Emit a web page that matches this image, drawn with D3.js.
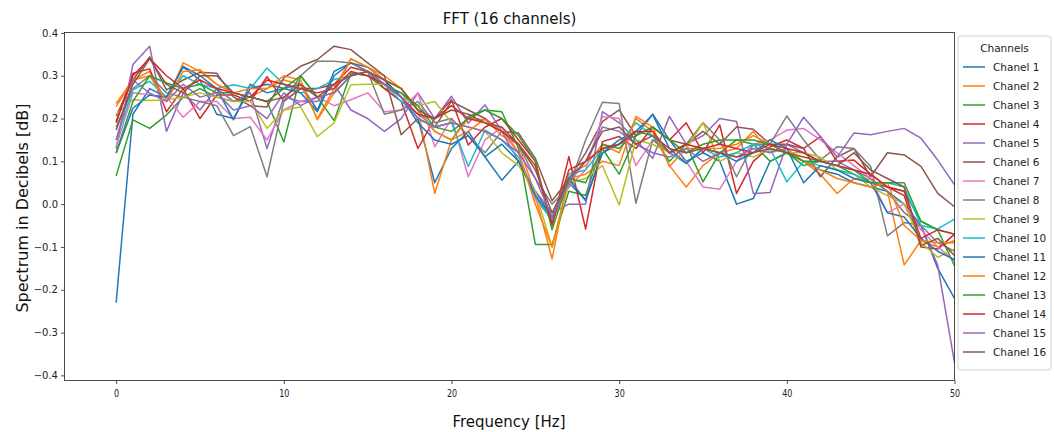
<!DOCTYPE html>
<html>
<head>
<meta charset="utf-8">
<script src="https://cdn.jsdelivr.net/npm/d3@7"></script>
<style>
  body { margin: 0; background: #fff; }
  svg { display: block; font-family: "DejaVu Sans", sans-serif; }
</style>
</head>
<body>
<div id="chart"></div>
<script>
// frequency bins 0..50 Hz
var freqs = d3.range(0, 51);
var channelNames = ["Chanel 1","Chanel 2","Chanel 3","Chanel 4","Chanel 5","Chanel 6","Chanel 7","Chanel 8",
  "Chanel 9","Chanel 10","Chanel 11","Chanel 12","Chanel 13","Chanel 14","Chanel 15","Chanel 16"];
var yTicks = [-0.4, -0.3, -0.2, -0.1, 0.0, 0.1, 0.2, 0.3, 0.4];
var xTicks = [0, 10, 20, 30, 40, 50];

var ch1 = [-0.23,0.21,0.27,0.25,0.32,0.29,0.21,0.2,0.27,0.28,0.27,0.28,0.22,0.31,0.33,0.31,0.29,0.25,0.2,0.05,0.13,0.17,0.11,0.056,0.1,0.03,-0.03,0.05,0.01,0.12,0.14,0.16,0.21,0.15,0.1,0.12,0.1,0.0,0.013,0.1,0.12,0.1,0.08,0.07,0.05,0.04,0.03,0.0,-0.05,-0.15,-0.22];
var ch2 = [0.235,0.29,0.31,0.24,0.33,0.31,0.28,0.26,0.25,0.27,0.29,0.28,0.2,0.27,0.34,0.32,0.3,0.27,0.22,0.025,0.15,0.17,0.2,0.16,0.14,0.02,-0.128,0.07,0.09,0.14,0.12,0.2,0.17,0.09,0.04,0.09,0.12,0.13,0.17,0.12,0.13,0.1,0.07,0.025,0.06,0.058,0.03,-0.142,-0.085,-0.1,-0.085];
var ch3 = [0.066,0.197,0.177,0.208,0.25,0.27,0.25,0.24,0.25,0.24,0.145,0.3,0.25,0.195,0.306,0.3,0.27,0.26,0.22,0.17,0.15,0.205,0.22,0.216,0.13,-0.094,-0.094,0.03,0.02,0.14,0.13,0.17,0.16,0.1,0.14,0.052,0.12,0.15,0.14,0.1,0.12,0.09,0.1,0.09,0.07,0.05,0.04,0.03,-0.04,-0.06,-0.144];
var ch4 = [0.193,0.306,0.316,0.216,0.27,0.2,0.255,0.255,0.24,0.298,0.24,0.27,0.27,0.28,0.32,0.31,0.27,0.24,0.13,0.2,0.244,0.138,0.18,0.2,0.15,0.1,-0.05,0.111,-0.058,0.146,0.158,0.13,0.18,0.15,0.19,0.12,0.185,0.025,0.1,0.134,0.15,0.13,0.158,0.1,0.103,0.07,0.04,0.02,-0.1,-0.105,-0.07];
var ch5 = [0.13,0.326,0.369,0.17,0.26,0.22,0.27,0.24,0.26,0.13,0.25,0.24,0.24,0.28,0.22,0.2,0.17,0.2,0.26,0.2,0.252,0.189,0.232,0.17,0.1,0.03,-0.02,0.0,0.0,0.216,0.19,0.15,0.107,0.205,0.14,0.16,0.2,0.193,0.025,0.027,0.14,0.12,0.1,0.1,0.08,0.06,0.03,-0.02,-0.05,-0.143,-0.37];
var ch6 = [0.206,0.29,0.344,0.267,0.29,0.308,0.306,0.25,0.23,0.227,0.295,0.322,0.338,0.369,0.361,0.33,0.3,0.162,0.2,0.18,0.24,0.22,0.2,0.17,0.166,0.107,0.008,0.058,0.12,0.193,0.22,0.16,0.18,0.15,0.14,0.17,0.14,0.18,0.175,0.14,0.14,0.13,0.064,0.11,0.13,0.064,0.12,0.115,0.088,0.025,-0.006];
var ch7 = [0.134,0.26,0.255,0.25,0.203,0.24,0.24,0.2,0.203,0.15,0.22,0.24,0.25,0.23,0.244,0.26,0.216,0.22,0.26,0.134,0.2,0.064,0.15,0.18,0.12,0.01,-0.035,0.04,0.08,0.205,0.2,0.09,0.15,0.12,0.1,0.04,0.035,0.1,0.14,0.15,0.173,0.177,0.15,0.12,0.09,0.06,-0.02,0.0,-0.06,-0.1,-0.132];
var ch8 = [0.18,0.27,0.3,0.26,0.25,0.24,0.23,0.16,0.181,0.064,0.24,0.3,0.334,0.334,0.33,0.31,0.21,0.22,0.24,0.19,0.2,0.16,0.12,0.17,0.14,0.06,0.0,0.04,0.15,0.238,0.235,0.002,0.15,0.12,0.14,0.19,0.15,0.064,0.14,0.14,0.206,0.15,0.103,0.134,0.13,0.088,-0.074,-0.043,-0.05,-0.09,-0.11];
var ch9 = [0.21,0.244,0.242,0.244,0.25,0.26,0.25,0.24,0.24,0.177,0.22,0.227,0.158,0.19,0.279,0.28,0.28,0.25,0.23,0.24,0.19,0.18,0.17,0.12,0.09,0.03,-0.1,0.05,0.06,0.09,-0.002,0.15,0.14,0.12,0.13,0.19,0.1,0.12,0.11,0.13,0.12,0.12,0.11,0.08,0.07,0.04,0.02,0.0,-0.09,-0.124,-0.105];
var ch10 = [0.15,0.267,0.287,0.25,0.3,0.28,0.27,0.279,0.27,0.318,0.28,0.26,0.27,0.291,0.3,0.31,0.28,0.24,0.21,0.18,0.19,0.088,0.173,0.15,0.11,0.02,-0.04,0.07,0.08,0.13,0.14,0.19,0.16,0.12,0.095,0.13,0.11,0.12,0.14,0.13,0.052,0.1,0.09,0.08,0.07,0.05,0.05,0.04,-0.05,-0.058,-0.035];
var ch11 = [0.119,0.224,0.255,0.25,0.322,0.3,0.27,0.197,0.28,0.26,0.27,0.26,0.216,0.3,0.33,0.32,0.29,0.25,0.19,0.15,0.14,0.16,0.111,0.14,0.1,0.02,-0.031,0.06,0.008,0.12,0.15,0.17,0.209,0.13,0.095,0.13,0.12,0.1,0.12,0.15,0.13,0.05,0.09,0.08,0.06,0.05,-0.02,-0.03,-0.08,-0.11,-0.13];
var ch12 = [0.228,0.29,0.3,0.24,0.31,0.314,0.28,0.26,0.27,0.27,0.3,0.29,0.197,0.26,0.339,0.32,0.29,0.271,0.22,0.17,0.15,0.2,0.197,0.17,0.12,0.0,-0.1,0.06,0.07,0.1,0.09,0.205,0.18,0.088,0.13,0.13,0.13,0.14,0.16,0.14,0.12,0.1,0.08,0.06,0.05,0.04,0.05,-0.05,-0.085,-0.09,-0.09];
var ch13 = [0.12,0.24,0.3,0.283,0.27,0.28,0.26,0.26,0.25,0.24,0.27,0.3,0.25,0.26,0.3,0.31,0.28,0.26,0.23,0.18,0.17,0.2,0.22,0.2,0.16,0.1,-0.06,0.06,0.05,0.13,0.07,0.16,0.18,0.15,0.12,0.14,0.15,0.15,0.15,0.14,0.12,0.1,0.1,0.09,0.08,0.05,0.05,0.05,-0.04,-0.06,-0.07];
var ch14 = [0.19,0.3,0.34,0.3,0.27,0.29,0.27,0.26,0.25,0.29,0.28,0.27,0.26,0.27,0.31,0.3,0.28,0.25,0.21,0.2,0.23,0.2,0.19,0.17,0.14,0.09,-0.047,0.08,0.1,0.13,0.14,0.17,0.17,0.12,0.14,0.13,0.14,0.13,0.12,0.14,0.13,0.12,0.1,0.09,0.08,0.07,0.04,0.03,-0.08,-0.06,-0.07];
var ch15 = [0.15,0.29,0.259,0.24,0.28,0.25,0.26,0.22,0.23,0.2,0.26,0.23,0.25,0.26,0.3,0.31,0.28,0.25,0.2,0.18,0.19,0.18,0.17,0.15,0.12,0.06,-0.03,0.05,0.1,0.18,0.17,0.14,0.12,0.11,0.13,0.1,0.12,0.11,0.13,0.12,0.14,0.203,0.158,0.11,0.166,0.162,0.17,0.177,0.154,0.103,0.045];
var ch16 = [0.173,0.28,0.34,0.28,0.26,0.3,0.3,0.26,0.25,0.24,0.25,0.28,0.25,0.28,0.3,0.31,0.29,0.27,0.22,0.2,0.22,0.21,0.19,0.18,0.14,0.08,-0.02,0.06,0.1,0.17,0.18,0.14,0.16,0.13,0.12,0.13,0.12,0.11,0.12,0.13,0.12,0.11,0.1,0.09,0.12,0.08,0.06,0.04,-0.097,-0.08,-0.12];

var series = [ch1,ch2,ch3,ch4,ch5,ch6,ch7,ch8,ch9,ch10,ch11,ch12,ch13,ch14,ch15,ch16];
var colors = d3.schemeCategory10; // matplotlib tab10 cycle

var W = 1054, H = 432;
var plot = { left: 64.5, right: 954.5, top: 32.5, bottom: 380.5 };

var svg = d3.select("#chart").append("svg").attr("width", W).attr("height", H);

var x = d3.scaleLinear().domain([-3.08, 50]).range([plot.left, plot.right]);
var y = d3.scaleLinear().domain([-0.412, 0.401]).range([plot.bottom, plot.top]);

var line = d3.line()
  .x(function (d, i) { return x(freqs[i]); })
  .y(function (d) { return y(d); });

// clip the lines to the axes box
svg.append("clipPath").attr("id", "clip")
  .append("rect")
  .attr("x", plot.left).attr("y", plot.top)
  .attr("width", plot.right - plot.left).attr("height", plot.bottom - plot.top);

svg.append("g").attr("clip-path", "url(#clip)")
  .selectAll("path")
  .data(series)
  .enter()
  .append("path")
  .attr("d", line)
  .attr("fill", "none")
  .attr("stroke", function (d, i) { return colors[i % 10]; })
  .attr("stroke-width", 1.5)
  .attr("stroke-linejoin", "round");

// axes
var fmtY = function (d) { return d3.format(".1f")(d).replace("-", "\u2212"); };
var yAxis = d3.axisLeft(y).tickValues(yTicks).tickFormat(fmtY).tickSize(3.5).tickPadding(3);
var xAxis = d3.axisBottom(x).tickValues(xTicks).tickFormat(d3.format("d")).tickSize(3.5).tickPadding(6);

var gy = svg.append("g").attr("transform", "translate(" + plot.left + ",0)").call(yAxis);
var gx = svg.append("g").attr("transform", "translate(0," + plot.bottom + ")").call(xAxis);
[gx, gy].forEach(function (g) {
  g.select(".domain").remove();
  g.selectAll("text").attr("font-size", 10).attr("font-family", "DejaVu Sans").attr("fill", "#222");
  g.selectAll("line").attr("stroke", "#222").attr("stroke-width", 0.8);
});
// x tick labels look horizontally squeezed in the original
gx.selectAll(".tick text").attr("transform", "scale(0.8,1)");

// frame
svg.append("rect")
  .attr("x", plot.left).attr("y", plot.top)
  .attr("width", plot.right - plot.left).attr("height", plot.bottom - plot.top)
  .attr("fill", "none").attr("stroke", "#222").attr("stroke-width", 0.8);

// titles
svg.append("text").attr("x", 509.5).attr("y", 24)
  .attr("text-anchor", "middle").attr("font-size", 15).attr("fill", "#111")
  .text("FFT (16 channels)");

svg.append("text").attr("x", 509).attr("y", 427)
  .attr("text-anchor", "middle").attr("font-size", 15).attr("fill", "#111")
  .text("Frequency [Hz]");

svg.append("text")
  .attr("transform", "translate(28,208) rotate(-90)")
  .attr("text-anchor", "middle").attr("font-size", 16).attr("fill", "#111")
  .text("Spectrum in Decibels [dB]");

// legend
var lg = svg.append("g").attr("transform", "translate(958,36)");
lg.append("rect").attr("width", 93).attr("height", 334).attr("rx", 3)
  .attr("fill", "#fff").attr("stroke", "#d0d0d0").attr("stroke-width", 1);
lg.append("text").attr("x", 46.5).attr("y", 16).attr("text-anchor", "middle")
  .attr("font-size", 10.5).attr("fill", "#222").text("Channels");
var items = lg.selectAll("g.item").data(channelNames).enter().append("g")
  .attr("class", "item")
  .attr("transform", function (d, i) { return "translate(0," + (31 + i * 19) + ")"; });
items.append("line").attr("x1", 5).attr("x2", 27).attr("y1", 0).attr("y2", 0)
  .attr("stroke", function (d, i) { return colors[i % 10]; }).attr("stroke-width", 1.5);
items.append("text").attr("x", 35).attr("y", 4).attr("font-size", 10.5).attr("fill", "#222")
  .text(function (d) { return d; });
</script>
</body>
</html>
